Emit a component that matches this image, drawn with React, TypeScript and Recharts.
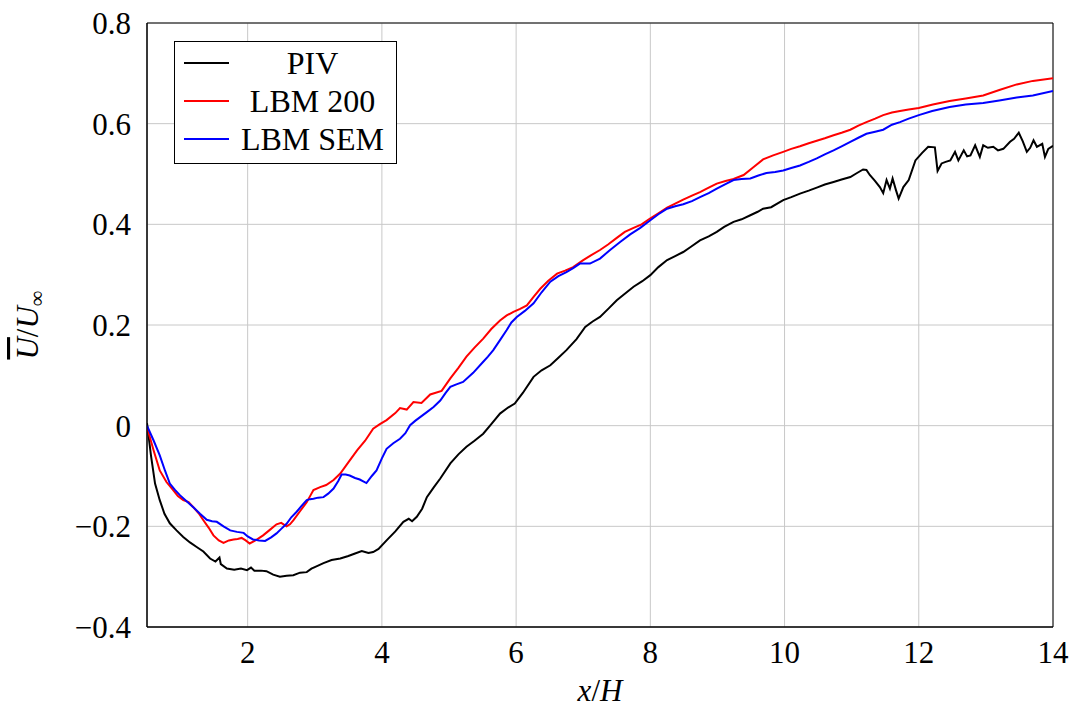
import React from 'react'
import { LineChart, Line, XAxis, YAxis, CartesianGrid, ReferenceArea } from 'recharts'

// [x/H, U/Uinf]
const pivPoints: [number, number][] = [
  [0.5, 0.005], [0.56, -0.06], [0.62, -0.115], [0.69, -0.148], [0.76, -0.175], [0.84, -0.194],
  [0.94, -0.208], [1.04, -0.221], [1.14, -0.232], [1.24, -0.241], [1.34, -0.25], [1.44, -0.264],
  [1.52, -0.27], [1.58, -0.262], [1.6, -0.275], [1.69, -0.284], [1.8, -0.286], [1.9, -0.284],
  [1.99, -0.287], [2.05, -0.282], [2.1, -0.288], [2.2, -0.288], [2.28, -0.289], [2.38, -0.296],
  [2.48, -0.3], [2.58, -0.298], [2.68, -0.297], [2.78, -0.292], [2.88, -0.291], [2.95, -0.284],
  [3.0, -0.281], [3.13, -0.273], [3.25, -0.267], [3.38, -0.264], [3.5, -0.259], [3.6, -0.254],
  [3.7, -0.249], [3.8, -0.253], [3.87, -0.251], [3.95, -0.245], [4.07, -0.228], [4.2, -0.21],
  [4.32, -0.191], [4.4, -0.185], [4.45, -0.19], [4.52, -0.181], [4.6, -0.165], [4.67, -0.142],
  [4.77, -0.123], [4.87, -0.105], [5.02, -0.075], [5.14, -0.057], [5.26, -0.042], [5.38, -0.03],
  [5.51, -0.016], [5.63, 0.003], [5.76, 0.024], [5.88, 0.036], [5.98, 0.044], [6.1, 0.065],
  [6.26, 0.097], [6.38, 0.11], [6.51, 0.12], [6.63, 0.135], [6.75, 0.15], [6.9, 0.172],
  [7.03, 0.196], [7.14, 0.207], [7.25, 0.216], [7.38, 0.233], [7.5, 0.249], [7.62, 0.262],
  [7.75, 0.276], [7.88, 0.287], [8.0, 0.299], [8.12, 0.315], [8.25, 0.329], [8.37, 0.337],
  [8.49, 0.345], [8.6, 0.355], [8.74, 0.368], [8.87, 0.376], [8.99, 0.385], [9.1, 0.395],
  [9.24, 0.405], [9.36, 0.41], [9.49, 0.418], [9.6, 0.425], [9.68, 0.431], [9.8, 0.434],
  [9.98, 0.448], [10.1, 0.454], [10.23, 0.461], [10.36, 0.467], [10.48, 0.473], [10.6, 0.479],
  [10.73, 0.484], [10.85, 0.489], [10.98, 0.494], [11.08, 0.502], [11.17, 0.509], [11.22, 0.508],
  [11.27, 0.498], [11.35, 0.486], [11.42, 0.474], [11.47, 0.462], [11.52, 0.488], [11.57, 0.471],
  [11.61, 0.491], [11.66, 0.468], [11.7, 0.451], [11.77, 0.474], [11.85, 0.488], [11.95, 0.527],
  [12.05, 0.542], [12.14, 0.554], [12.24, 0.553], [12.28, 0.506], [12.34, 0.521], [12.4, 0.524],
  [12.47, 0.527], [12.54, 0.544], [12.59, 0.527], [12.67, 0.547], [12.72, 0.535], [12.77, 0.537],
  [12.84, 0.557], [12.91, 0.534], [12.96, 0.557], [13.03, 0.552], [13.11, 0.554], [13.18, 0.547],
  [13.26, 0.55], [13.36, 0.564], [13.42, 0.57], [13.49, 0.582], [13.55, 0.565], [13.61, 0.544],
  [13.66, 0.552], [13.71, 0.567], [13.76, 0.554], [13.84, 0.56], [13.88, 0.534], [13.93, 0.55],
  [14.0, 0.556],
]

const lbm200Points: [number, number][] = [
  [0.5, -0.003], [0.6, -0.05], [0.69, -0.089], [0.79, -0.112], [0.89, -0.128], [0.96, -0.14],
  [1.04, -0.148], [1.12, -0.152], [1.19, -0.162], [1.27, -0.174], [1.34, -0.188], [1.42, -0.203],
  [1.49, -0.218], [1.57, -0.228], [1.64, -0.233], [1.72, -0.228], [1.79, -0.226], [1.85, -0.225],
  [1.91, -0.223], [1.97, -0.228], [2.03, -0.234], [2.13, -0.227], [2.23, -0.218], [2.33, -0.207],
  [2.43, -0.196], [2.5, -0.193], [2.58, -0.2], [2.63, -0.196], [2.68, -0.188], [2.78, -0.17],
  [2.88, -0.152], [2.93, -0.14], [2.98, -0.128], [3.08, -0.122], [3.17, -0.118], [3.28, -0.108],
  [3.38, -0.095], [3.5, -0.073], [3.63, -0.049], [3.75, -0.03], [3.87, -0.006], [3.97, 0.003],
  [4.07, 0.011], [4.2, 0.025], [4.27, 0.035], [4.37, 0.032], [4.47, 0.047], [4.59, 0.045],
  [4.72, 0.062], [4.89, 0.069], [5.02, 0.094], [5.14, 0.115], [5.26, 0.137], [5.38, 0.155],
  [5.51, 0.173], [5.63, 0.192], [5.76, 0.209], [5.86, 0.219], [5.96, 0.226], [6.06, 0.232],
  [6.16, 0.239], [6.26, 0.256], [6.36, 0.272], [6.48, 0.288], [6.61, 0.302], [6.73, 0.308],
  [6.85, 0.315], [7.0, 0.329], [7.12, 0.339], [7.25, 0.349], [7.37, 0.36], [7.5, 0.373],
  [7.62, 0.385], [7.75, 0.393], [7.87, 0.4], [7.99, 0.411], [8.12, 0.422], [8.25, 0.433],
  [8.37, 0.441], [8.49, 0.449], [8.62, 0.457], [8.74, 0.464], [8.87, 0.473], [8.99, 0.481],
  [9.12, 0.486], [9.24, 0.49], [9.39, 0.498], [9.54, 0.514], [9.68, 0.529], [9.83, 0.537],
  [9.98, 0.544], [10.1, 0.55], [10.23, 0.555], [10.36, 0.561], [10.48, 0.566], [10.6, 0.571],
  [10.73, 0.577], [10.85, 0.582], [10.98, 0.588], [11.1, 0.596], [11.22, 0.603], [11.35, 0.61],
  [11.47, 0.617], [11.6, 0.622], [11.72, 0.625], [11.85, 0.628], [12.0, 0.631], [12.21, 0.638],
  [12.46, 0.645], [12.7, 0.65], [12.96, 0.656], [13.2, 0.667], [13.46, 0.678], [13.7, 0.685],
  [14.0, 0.69],
]

const lbmSemPoints: [number, number][] = [
  [0.5, 0.0], [0.6, -0.03], [0.69, -0.059], [0.77, -0.09], [0.84, -0.115], [0.92, -0.128],
  [0.99, -0.138], [1.09, -0.15], [1.19, -0.162], [1.29, -0.175], [1.39, -0.187], [1.47, -0.19],
  [1.54, -0.191], [1.64, -0.2], [1.74, -0.208], [1.84, -0.211], [1.94, -0.213], [2.0, -0.22],
  [2.08, -0.226], [2.17, -0.228], [2.26, -0.229], [2.35, -0.222], [2.43, -0.214], [2.5, -0.205],
  [2.58, -0.195], [2.65, -0.182], [2.73, -0.171], [2.8, -0.16], [2.88, -0.148], [2.93, -0.146],
  [2.98, -0.145], [3.05, -0.143], [3.13, -0.142], [3.2, -0.135], [3.28, -0.125], [3.35, -0.11],
  [3.4, -0.097], [3.46, -0.097], [3.52, -0.099], [3.6, -0.104], [3.67, -0.107], [3.77, -0.114],
  [3.85, -0.1], [3.92, -0.089], [4.0, -0.065], [4.07, -0.046], [4.17, -0.035], [4.27, -0.026],
  [4.35, -0.015], [4.42, 0.001], [4.5, 0.01], [4.57, 0.017], [4.67, 0.027], [4.77, 0.037],
  [4.87, 0.05], [4.95, 0.065], [5.02, 0.077], [5.11, 0.082], [5.21, 0.087], [5.36, 0.105],
  [5.51, 0.127], [5.58, 0.137], [5.66, 0.15], [5.76, 0.17], [5.86, 0.19], [5.93, 0.205],
  [6.01, 0.216], [6.13, 0.228], [6.26, 0.243], [6.38, 0.265], [6.51, 0.286], [6.63, 0.297],
  [6.75, 0.305], [6.85, 0.313], [6.95, 0.322], [7.1, 0.322], [7.25, 0.332], [7.4, 0.349],
  [7.55, 0.365], [7.7, 0.38], [7.85, 0.393], [7.99, 0.407], [8.12, 0.42], [8.25, 0.431],
  [8.37, 0.436], [8.49, 0.44], [8.62, 0.446], [8.74, 0.454], [8.87, 0.462], [8.99, 0.471],
  [9.12, 0.48], [9.24, 0.488], [9.36, 0.49], [9.49, 0.491], [9.61, 0.497], [9.73, 0.502],
  [9.86, 0.504], [9.98, 0.507], [10.1, 0.512], [10.23, 0.517], [10.36, 0.524], [10.48, 0.531],
  [10.6, 0.539], [10.73, 0.547], [10.85, 0.555], [10.98, 0.564], [11.1, 0.572], [11.22, 0.58],
  [11.35, 0.584], [11.47, 0.588], [11.6, 0.598], [11.72, 0.603], [11.85, 0.61], [12.0, 0.617],
  [12.2, 0.625], [12.46, 0.633], [12.7, 0.638], [12.96, 0.641], [13.2, 0.646], [13.46, 0.652],
  [13.7, 0.656], [14.0, 0.665],
]

const xTicks = [2, 4, 6, 8, 10, 12, 14]
const yTicks = [-0.4, -0.2, 0, 0.2, 0.4, 0.6, 0.8]

const series = [
  { name: 'PIV', color: '#000000', points: pivPoints },
  { name: 'LBM 200', color: '#ff0000', points: lbm200Points },
  { name: 'LBM SEM', color: '#0000ff', points: lbmSemPoints },
]

const FONT = '"Liberation Serif", "Times New Roman", serif'

const toRows = (pts: [number, number][]) => pts.map(([x, y]) => ({ x, y }))

const fmtY = (v: number) => (v === 0 ? '0' : v < 0 ? '\u2212' + Math.abs(v).toFixed(1) : v.toFixed(1))

function LegendBox() {
  return (
    <div
      style={{
        position: 'absolute',
        left: 174,
        top: 41,
        border: '1px solid #000',
        background: '#fff',
        width: 221,
        height: 117,
        padding: '2px 0',
        fontFamily: FONT,
        fontSize: 32,
        color: '#000',
      }}
    >
      {series.map((s) => (
        <div key={s.name} style={{ display: 'flex', alignItems: 'center', height: 38 }}>
          <div style={{ width: 45, height: 2, background: s.color, marginLeft: 9 }} />
          <div style={{ flex: 1, textAlign: 'center', lineHeight: '38px' }}>{s.name}</div>
        </div>
      ))}
    </div>
  )
}

const XLabel = (props: any) => {
  const vb = props.viewBox
  return (
    <text x={vb.x + vb.width / 2} y={701} textAnchor="middle" fontFamily={FONT} fontSize={31} fontStyle="italic">
      x<tspan fontStyle="normal">/</tspan>H
    </text>
  )
}

const YLabel = (props: any) => {
  const vb = props.viewBox
  const cx = 38
  const cy = vb.y + vb.height / 2
  return (
    <text
      x={cx}
      y={cy}
      transform={`rotate(-90 ${cx} ${cy})`}
      textAnchor="middle"
      fontFamily={FONT}
      fontSize={31}
      fontStyle="italic"
    >
      <tspan style={{ textDecoration: 'overline' }}>U</tspan>
      <tspan fontStyle="normal">/</tspan>U
      <tspan fontStyle="normal" fontSize={22} dy={6}>∞</tspan>
    </text>
  )
}

export default function App() {
  return (
    <div style={{ position: 'absolute', left: 0, top: 0, width: 1077, height: 708, background: '#fff' }}>
      <LineChart width={1077} height={708} margin={{ top: 23, right: 24, bottom: 0, left: 47 }}>
        <CartesianGrid stroke="#c8c8c8" strokeWidth={1} />
        <XAxis
          type="number"
          dataKey="x"
          domain={[0.5, 14]}
          ticks={xTicks}
          allowDataOverflow
          height={81}
          axisLine={{ stroke: '#000' }}
          tickLine={false}
          tick={{ fill: '#000', fontFamily: FONT, fontSize: 31 }}
          tickMargin={8}
          label={<XLabel />}
        />
        <YAxis
          type="number"
          domain={[-0.4, 0.8]}
          ticks={yTicks}
          allowDataOverflow
          width={100}
          axisLine={{ stroke: '#000' }}
          tickLine={false}
          tick={{ fill: '#000', fontFamily: FONT, fontSize: 31 }}
          tickFormatter={fmtY}
          tickMargin={10}
          label={<YLabel />}
        />
        <ReferenceArea x1={0.5} x2={14} y1={-0.4} y2={0.8} fill="none" fillOpacity={0} stroke="#000" strokeWidth={1} />
        {series.map((s) => (
          <Line
            key={s.name}
            data={toRows(s.points)}
            dataKey="y"
            name={s.name}
            type="linear"
            stroke={s.color}
            strokeWidth={2}
            dot={false}
            isAnimationActive={false}
          />
        ))}
      </LineChart>
      <LegendBox />
    </div>
  )
}
